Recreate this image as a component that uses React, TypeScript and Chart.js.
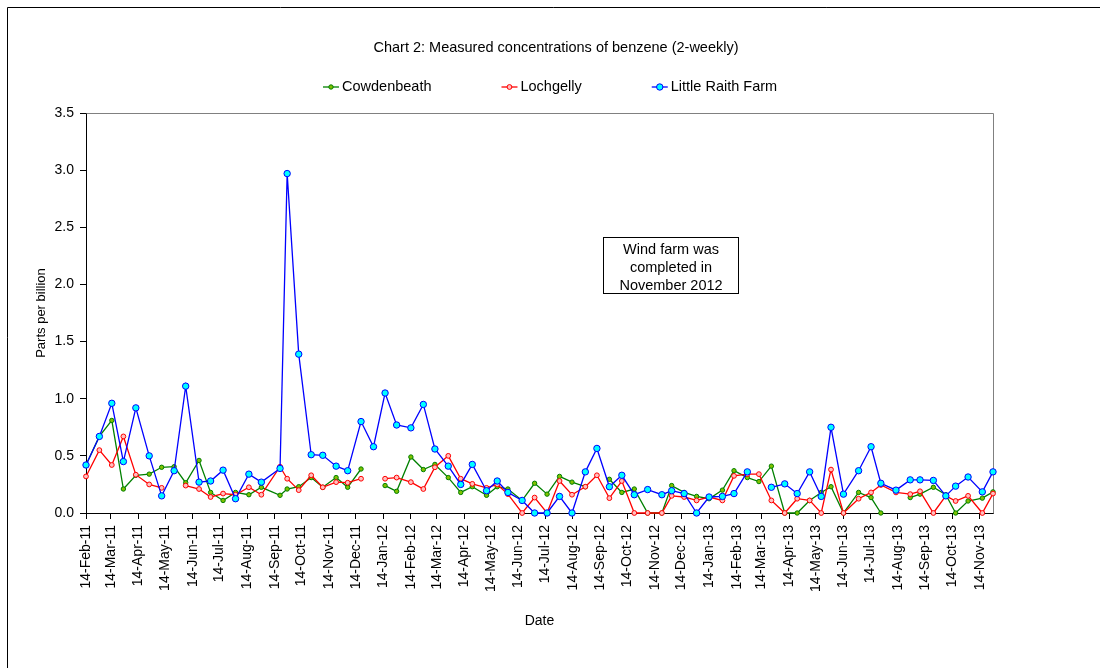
import React, { useEffect, useRef } from "react";
import { Chart, registerables } from "chart.js";

Chart.register(...registerables);

// ---------- data ----------
const sampleDates = [
  "2011-02-14", "2011-03-01", "2011-03-15", "2011-03-28", "2011-04-11", "2011-04-26",
  "2011-05-10", "2011-05-24", "2011-06-06", "2011-06-21", "2011-07-04", "2011-07-18",
  "2011-08-01", "2011-08-16", "2011-08-30", "2011-09-20", "2011-09-28", "2011-10-11",
  "2011-10-25", "2011-11-07", "2011-11-22", "2011-12-05", "2011-12-20", "2012-01-03",
  "2012-01-16", "2012-01-29", "2012-02-14", "2012-02-28", "2012-03-12", "2012-03-27",
  "2012-04-10", "2012-04-23", "2012-05-09", "2012-05-21", "2012-06-02", "2012-06-18",
  "2012-07-02", "2012-07-16", "2012-07-30", "2012-08-13", "2012-08-28", "2012-09-10",
  "2012-09-24", "2012-10-08", "2012-10-22", "2012-11-06", "2012-11-22", "2012-12-03",
  "2012-12-17", "2012-12-31", "2013-01-14", "2013-01-29", "2013-02-11", "2013-02-26",
  "2013-03-11", "2013-03-25", "2013-04-09", "2013-04-23", "2013-05-07", "2013-05-20",
  "2013-05-31", "2013-06-14", "2013-07-01", "2013-07-15", "2013-07-26", "2013-08-12",
  "2013-08-28", "2013-09-08", "2013-09-23", "2013-10-07", "2013-10-18", "2013-11-01",
  "2013-11-17", "2013-11-29",
];

const cowdenbeath = [
  0.42, 0.67, 0.81, 0.21, 0.33, 0.34, 0.40, 0.405, 0.265, 0.46, 0.18, 0.11,
  0.18, 0.16, 0.225, 0.155, 0.21, 0.23, 0.31, 0.225, 0.31, 0.225, 0.385, null,
  0.24, 0.19, 0.49, 0.38, 0.425, 0.31, 0.18, 0.23, 0.155, 0.23, 0.21, 0.11,
  0.26, 0.165, 0.32, 0.27, 0.23, null, 0.295, 0.18, 0.21, 0.0, 0.0, 0.24,
  0.18, 0.145, 0.125, 0.20, 0.37, 0.31, 0.275, 0.41, 0.0, 0.0, 0.11, 0.18,
  0.23, 0.0, 0.18, 0.135, 0.0, null, 0.135, 0.165, 0.225, 0.16, 0.0, 0.105,
  0.13, 0.185,
];

const lochgelly = [
  0.32, 0.55, 0.42, 0.67, 0.335, 0.25, 0.22, null, 0.24, 0.21, 0.14, 0.17,
  0.16, 0.225, 0.16, 0.405, 0.30, 0.20, 0.33, 0.225, 0.27, 0.265, 0.30, null,
  0.30, 0.31, 0.27, 0.21, 0.40, 0.50, 0.30, 0.255, 0.22, 0.25, 0.165, 0.0,
  0.135, 0.0, 0.28, 0.16, 0.23, 0.33, 0.13, 0.28, 0.0, 0.0, 0.0, 0.15,
  0.14, 0.11, 0.14, 0.11, 0.325, 0.34, 0.34, 0.11, 0.0, 0.125, 0.11, 0.0,
  0.38, 0.0, 0.125, 0.18, 0.245, 0.18, 0.165, 0.19, 0.0, 0.15, 0.105, 0.15,
  0.0, 0.17,
];

const littleRaithFarm = [
  0.42, 0.67, 0.96, 0.45, 0.92, 0.50, 0.15, 0.37, 1.11, 0.27, 0.28, 0.375,
  0.125, 0.34, 0.27, 0.39, 2.97, 1.39, 0.51, 0.505, 0.41, 0.37, 0.80, 0.58,
  1.05, 0.77, 0.745, 0.95, 0.56, 0.41, 0.25, 0.425, 0.195, 0.28, 0.18, 0.11,
  0.0, 0.0, 0.145, 0.0, 0.36, 0.565, 0.23, 0.33, 0.16, 0.205, 0.16, 0.195,
  0.17, 0.0, 0.14, 0.145, 0.17, 0.36, null, 0.225, 0.255, 0.17, 0.36, 0.145,
  0.75, 0.165, 0.37, 0.58, 0.26, 0.20, 0.29, 0.29, 0.285, 0.15, 0.235, 0.315,
  0.185, 0.36,
];

const tickLabels = [
  "14-Feb-11", "14-Mar-11", "14-Apr-11", "14-May-11", "14-Jun-11", "14-Jul-11",
  "14-Aug-11", "14-Sep-11", "14-Oct-11", "14-Nov-11", "14-Dec-11", "14-Jan-12",
  "14-Feb-12", "14-Mar-12", "14-Apr-12", "14-May-12", "14-Jun-12", "14-Jul-12",
  "14-Aug-12", "14-Sep-12", "14-Oct-12", "14-Nov-12", "14-Dec-12", "14-Jan-13",
  "14-Feb-13", "14-Mar-13", "14-Apr-13", "14-May-13", "14-Jun-13", "14-Jul-13",
  "14-Aug-13", "14-Sep-13", "14-Oct-13", "14-Nov-13",
];

const seriesNames = ["Cowdenbeath", "Lochgelly", "Little Raith Farm"];
const chartTitle = "Chart 2: Measured concentrations of benzene (2-weekly)";
const noteLines = ["Wind farm was", "completed in", "November 2012"];

// ---------- helpers ----------
const MONTHS = ["Jan", "Feb", "Mar", "Apr", "May", "Jun", "Jul", "Aug", "Sep", "Oct", "Nov", "Dec"];
const isoToTs = (s: string) => {
  const [y, m, d] = s.split("-").map(Number);
  return Date.UTC(y, m - 1, d);
};
const labelToTs = (s: string) => {
  const [d, mon, yy] = s.split("-");
  return Date.UTC(2000 + Number(yy), MONTHS.indexOf(mon), Number(d));
};

const FONT = "'Liberation Sans', Arial, Helvetica, sans-serif";

const styles = [
  { line: "#008000", fill: "#80C000", border: "#008000", r: 2.2 },
  { line: "#FF0000", fill: "#FFC0C0", border: "#FF0000", r: 2.4 },
  { line: "#0000FF", fill: "#00FFFF", border: "#0000FF", r: 3.2 },
];

const decorPlugin = {
  id: "decor",
  beforeDraw(chart: any) {
    const { ctx, width, height } = chart;
    ctx.save();
    ctx.fillStyle = "#ffffff";
    ctx.fillRect(0, 0, width, height);
    ctx.strokeStyle = "#000000";
    ctx.lineWidth = 1;
    ctx.beginPath();
    ctx.moveTo(7.5, height);
    ctx.lineTo(7.5, 7.5);
    ctx.lineTo(width, 7.5);
    ctx.stroke();
    ctx.restore();
  },
  beforeDatasetsDraw(chart: any) {
    const { ctx, chartArea } = chart;
    ctx.save();
    ctx.strokeStyle = "#808080";
    ctx.lineWidth = 1;
    ctx.beginPath();
    ctx.moveTo(Math.round(chartArea.left) + 0.5, Math.round(chartArea.top) + 0.5);
    ctx.lineTo(Math.round(chartArea.right) + 0.5, Math.round(chartArea.top) + 0.5);
    ctx.lineTo(Math.round(chartArea.right) + 0.5, Math.round(chartArea.bottom) + 0.5);
    ctx.stroke();
    ctx.restore();
  },
  afterDraw(chart: any) {
    const { ctx } = chart;
    ctx.save();
    // title
    ctx.fillStyle = "#000";
    ctx.font = `14.5px ${FONT}`;
    ctx.textAlign = "center";
    ctx.textBaseline = "middle";
    ctx.fillText(chartTitle, 556, 48);

    // legend
    ctx.font = `14.5px ${FONT}`;
    ctx.textAlign = "left";
    let x = 323;
    const ly = 87;
    seriesNames.forEach((name, i) => {
      const st = styles[i];
      ctx.strokeStyle = st.line;
      ctx.lineWidth = 1.3;
      ctx.beginPath();
      ctx.moveTo(x, ly);
      ctx.lineTo(x + 16, ly);
      ctx.stroke();
      ctx.beginPath();
      ctx.arc(x + 8, ly, st.r, 0, Math.PI * 2);
      ctx.fillStyle = st.fill;
      ctx.fill();
      ctx.strokeStyle = st.border;
      ctx.lineWidth = 1;
      ctx.stroke();
      ctx.fillStyle = "#000";
      ctx.fillText(name, x + 19, ly);
      x += 19 + ctx.measureText(name).width + 70;
    });

    // annotation box
    ctx.fillStyle = "#fff";
    ctx.fillRect(603, 237, 135, 56);
    ctx.strokeStyle = "#000";
    ctx.lineWidth = 1;
    ctx.strokeRect(603.5, 237.5, 135, 56);
    ctx.fillStyle = "#000";
    ctx.font = `14.5px ${FONT}`;
    ctx.textAlign = "center";
    ctx.textBaseline = "alphabetic";
    noteLines.forEach((t, i) => ctx.fillText(t, 671, 254 + i * 18));
    ctx.restore();
  },
};

export default function App() {
  const ref = useRef<HTMLCanvasElement | null>(null);

  useEffect(() => {
    if (!ref.current) return;
    const xs = sampleDates.map(isoToTs);
    const tickValues = tickLabels.map(labelToTs);
    const mk = (vals: (number | null)[]) => xs.map((x, i) => ({ x, y: vals[i] }));
    const seriesData = [cowdenbeath, lochgelly, littleRaithFarm];
    const orders = [2, 1, 0];

    const datasets = seriesNames.map((name, i) => ({
      label: name,
      data: mk(seriesData[i]),
      borderColor: styles[i].line,
      backgroundColor: styles[i].fill,
      pointBackgroundColor: styles[i].fill,
      pointBorderColor: styles[i].border,
      pointRadius: styles[i].r,
      pointBorderWidth: 1,
      borderWidth: 1.3,
      tension: 0,
      spanGaps: false,
      clip: false,
      order: orders[i],
    }));

    const chart = new Chart(ref.current, {
      type: "line",
      data: { datasets: datasets as any },
      options: {
        animation: false,
        responsive: false,
        maintainAspectRatio: false,
        events: [],
        layout: { padding: { left: 0, right: 107, top: 113, bottom: 0 } },
        plugins: {
          legend: { display: false },
          title: { display: false },
          tooltip: { enabled: false },
        },
        scales: {
          x: {
            type: "linear",
            min: xs[0],
            max: xs[xs.length - 1],
            afterBuildTicks: (scale: any) => {
              scale.ticks = tickValues.map((v) => ({ value: v }));
            },
            afterFit: (scale: any) => {
              scale.height = 155;
            },
            ticks: {
              autoSkip: false,
              minRotation: 90,
              maxRotation: 90,
              padding: 6,
              color: "#000",
              font: { family: FONT, size: 14 },
              callback: (_v: any, i: number) => tickLabels[i],
            },
            grid: {
              drawOnChartArea: false,
              drawTicks: true,
              tickLength: 6,
              color: "#000",
            },
            border: { display: true, color: "#000", width: 1 },
            title: {
              display: true,
              text: "Date",
              color: "#000",
              font: { family: FONT, size: 14 },
              padding: { top: 0, bottom: 38 },
            },
          },
          y: {
            type: "linear",
            min: 0,
            max: 3.5,
            afterFit: (scale: any) => {
              scale.width = 86;
            },
            ticks: {
              stepSize: 0.5,
              padding: 6,
              color: "#000",
              font: { family: FONT, size: 14 },
              callback: (v: any) => Number(v).toFixed(1),
            },
            grid: {
              drawOnChartArea: false,
              drawTicks: true,
              tickLength: 6,
              color: "#000",
            },
            border: { display: true, color: "#000", width: 1 },
            title: {
              display: true,
              text: "Parts per billion",
              color: "#000",
              font: { family: FONT, size: 13 },
              padding: { top: 34, bottom: 0 },
            },
          },
        },
      },
      plugins: [decorPlugin],
    });

    return () => chart.destroy();
  }, []);

  return (
    <div style={{ position: "fixed", left: 0, top: 0, width: 1100, height: 668 }}>
      <canvas ref={ref} width={1100} height={668} style={{ width: 1100, height: 668, display: "block" }} />
    </div>
  );
}
